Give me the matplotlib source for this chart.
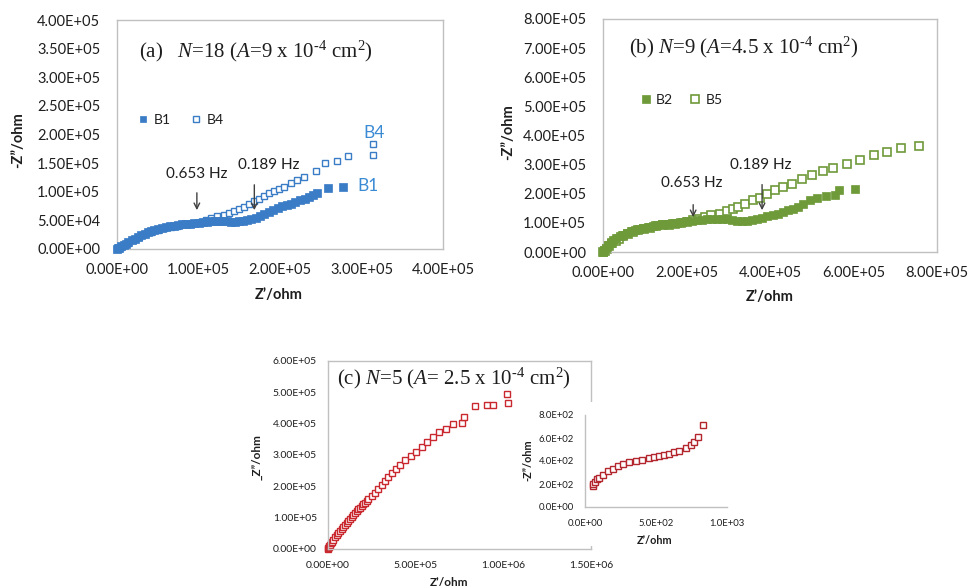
import numpy as np
import matplotlib
matplotlib.use('Agg')
import matplotlib.pyplot as plt
from matplotlib.ticker import FuncFormatter

plt.rcParams['font.family'] = ['Lato', 'DejaVu Sans']
plt.rcParams['mathtext.fontset'] = 'custom'
plt.rcParams['mathtext.rm'] = 'Liberation Serif'
plt.rcParams['mathtext.it'] = 'Liberation Serif:italic'
plt.rcParams['mathtext.bf'] = 'Liberation Serif:bold'

# ---------------- data ----------------
# Panel (a): units of 1e5 ohm
a_b1_x = [0.00, 0.01, 0.03, 0.05, 0.08, 0.11, 0.14, 0.18, 0.22, 0.26, 0.30, 0.34, 0.38, 0.42, 0.46,
          0.50, 0.55, 0.60, 0.65, 0.70, 0.75, 0.80, 0.85, 0.90, 0.95, 1.00, 1.05, 1.10, 1.15, 1.20,
          1.25, 1.30, 1.35, 1.40, 1.45, 1.50, 1.55, 1.60, 1.65, 1.70, 1.75, 1.80, 1.86, 1.92, 1.97,
          2.03, 2.09, 2.14, 2.19, 2.25, 2.31, 2.36, 2.41, 2.46, 2.59, 2.77]
a_b1_y = [0.00, 0.01, 0.025, 0.045, 0.07, 0.095, 0.12, 0.15, 0.18, 0.21, 0.24, 0.265, 0.29, 0.31, 0.33,
          0.35, 0.37, 0.385, 0.40, 0.41, 0.42, 0.43, 0.44, 0.445, 0.455, 0.46, 0.47, 0.48, 0.49, 0.495,
          0.495, 0.49, 0.485, 0.48, 0.48, 0.485, 0.495, 0.51, 0.53, 0.55, 0.58, 0.61, 0.645, 0.68, 0.71,
          0.745, 0.77, 0.79, 0.82, 0.85, 0.88, 0.91, 0.94, 0.97, 1.06, 1.09]
a_b4_x = [0.00, 0.02, 0.05, 0.09, 0.14, 0.20, 0.27, 0.34, 0.42, 0.50, 0.58, 0.66, 0.74, 0.82, 0.90,
          0.97, 1.03, 1.09, 1.15, 1.23, 1.31, 1.37, 1.43, 1.50, 1.56, 1.62, 1.68, 1.74, 1.80, 1.86,
          1.93, 1.99, 2.05, 2.13, 2.21, 2.30, 2.44, 2.55, 2.70, 2.83, 3.14, 3.14]
a_b4_y = [0.00, 0.02, 0.04, 0.075, 0.11, 0.155, 0.205, 0.255, 0.295, 0.335, 0.365, 0.39, 0.41, 0.43, 0.445,
          0.46, 0.48, 0.505, 0.54, 0.57, 0.60, 0.63, 0.66, 0.70, 0.74, 0.78, 0.83, 0.87, 0.93, 0.98,
          1.01, 1.05, 1.09, 1.15, 1.20, 1.26, 1.37, 1.51, 1.53, 1.63, 1.65, 1.83]

# Panel (b): units of 1e3 ohm
b_b2_x = [0, 3, 7, 12, 18, 25, 32, 40, 48, 57, 66, 76, 86, 97, 108, 119, 130, 142, 154, 166,
          178, 190, 202, 214, 226, 238, 250, 262, 274, 286, 298, 310, 322, 334, 346, 358, 370, 382,
          394, 406, 418, 430, 442, 454, 466, 480, 496, 512, 534, 556, 566, 604]
b_b2_y = [0, 7, 15, 24, 32, 40, 47, 54, 60, 66, 71, 76, 80, 84, 87, 90, 93, 95, 97, 99,
          101, 103, 105, 107, 109, 111, 113, 114, 115, 114, 112, 110, 108, 107, 108, 110, 113, 117,
          122, 127, 132, 138, 143, 149, 155, 164, 178, 186, 192, 195, 212, 216]
b_b5_x = [0, 4, 9, 15, 22, 30, 39, 49, 60, 72, 85, 99, 113, 128, 143, 158, 173, 188, 202, 216,
          230, 244, 258, 280, 296, 312, 324, 340, 360, 376, 392, 412, 432, 452, 476, 500, 528, 552,
          584, 616, 648, 680, 714, 756]
b_b5_y = [0, 5, 12, 21, 30, 38, 46, 54, 61, 68, 74, 79, 84, 88, 91, 94, 97, 100, 104, 109,
          115, 121, 127, 132, 141, 149, 155, 164, 178, 187, 199, 212, 224, 235, 249, 264, 278, 289,
          302, 316, 333, 344, 356, 364]

# Panel (c): units of 1e5 ohm
c_x = [0.00, 0.01, 0.03, 0.06, 0.10, 0.15, 0.21, 0.30, 0.40, 0.50, 0.59, 0.68, 0.78, 0.87, 0.97,
       1.06, 1.16, 1.25, 1.35, 1.44, 1.54, 1.63, 1.73, 1.82, 1.92, 2.01, 2.11, 2.20, 2.30, 2.49,
       2.68, 2.87, 3.06, 3.25, 3.44, 3.63, 3.88, 4.11, 4.41, 4.71, 5.02, 5.34, 5.66, 6.01, 6.35,
       6.73, 7.15, 7.62, 7.76, 8.40, 9.05, 9.39, 10.19, 10.25]
c_y = [0.00, 0.03, 0.06, 0.09, 0.13, 0.18, 0.23, 0.30, 0.37, 0.44, 0.50, 0.56, 0.63, 0.70, 0.77,
       0.83, 0.90, 0.96, 1.03, 1.10, 1.16, 1.22, 1.27, 1.32, 1.37, 1.43, 1.48, 1.53, 1.59, 1.69,
       1.80, 1.93, 2.04, 2.17, 2.29, 2.41, 2.54, 2.68, 2.84, 2.97, 3.11, 3.27, 3.43, 3.56, 3.72,
       3.84, 3.98, 4.03, 4.20, 4.56, 4.60, 4.61, 4.95, 4.67]

# Inset of (c): ohm
ci_x = [53, 58, 72, 86, 100, 128, 163, 198, 233, 267, 309, 356, 402, 449, 488, 523, 558, 593,
        628, 663, 709, 744, 767, 798, 833]
ci_y = [180, 198, 218, 241, 256, 282, 314, 334, 355, 372, 387, 404, 413, 422, 436, 442, 451, 465,
        474, 485, 509, 538, 567, 610, 712]

# ticks
a_ticks = [0, 1e5, 2e5, 3e5, 4e5]
a_yticks = [0, 5e4, 1e5, 1.5e5, 2e5, 2.5e5, 3e5, 3.5e5, 4e5]
b_ticks = [0, 2e5, 4e5, 6e5, 8e5]
b_yticks = [0, 1e5, 2e5, 3e5, 4e5, 5e5, 6e5, 7e5, 8e5]
c_xticks = [0, 5e5, 1e6, 1.5e6]
c_yticks = [0, 1e5, 2e5, 3e5, 4e5, 5e5, 6e5]
ci_xticks = [0, 500, 1000]
ci_yticks = [0, 200, 400, 600, 800]

# frequency annotations: (label, x, arrow top y, arrow tip y, text x, text y)
a_freq = [('0.653 Hz', 0.98e5, 1.03e5, 0.63e5, 0.98e5, 1.31e5),
          ('0.189 Hz', 1.685e5, 1.17e5, 0.63e5, 1.86e5, 1.47e5)]
b_freq = [('0.653 Hz', 216e3, 1.72e5, 1.10e5, 213e3, 2.37e5),
          ('0.189 Hz', 381e3, 2.41e5, 1.34e5, 379e3, 2.99e5)]

BLUE = '#3a7cc6'
BLUE_T = '#3a8ad4'
GREEN = '#6e9a3a'
RED = '#c8282e'
RED_IN = '#b3262d'
TXT = '#1e1e1e'
SPINE = '#c0c0c0'

W, H = 971, 587
fig = plt.figure(figsize=(W / 100, H / 100), dpi=100)


def rect(l, t, r, b):
    return [l / W, (H - b) / H, (r - l) / W, (b - t) / H]


def style(ax, xt, yt, fmt, fs, padx, pady, lim):
    ax.set_xlim(lim[0], lim[1])
    ax.set_ylim(lim[2], lim[3])
    ax.set_xticks(xt)
    ax.set_yticks(yt)
    f = FuncFormatter(lambda v, p: fmt.format(v))
    ax.xaxis.set_major_formatter(f)
    ax.yaxis.set_major_formatter(f)
    ax.tick_params(length=0, labelsize=fs, labelcolor=TXT)
    ax.tick_params(axis='x', pad=padx)
    ax.tick_params(axis='y', pad=pady)
    for s in ax.spines.values():
        s.set_color(SPINE)
        s.set_linewidth(1.0)


def labels(ax, box, xl, yl, xpos, ypos, fs):
    l, t, r, b = box
    ax.set_xlabel(xl, fontsize=fs, fontweight='bold', color=TXT)
    ax.set_ylabel(yl, fontsize=fs, fontweight='bold', color=TXT)
    ax.xaxis.set_label_coords((xpos[0] - l) / (r - l), (b - xpos[1]) / (b - t))
    ax.yaxis.set_label_coords((ypos[0] - l) / (r - l), (b - ypos[1]) / (b - t))
    ax.xaxis.label.set_va('center')
    ax.yaxis.label.set_va('center')


def title(ax, x, y, s):
    ax.text(x, y, s, transform=ax.transAxes, family='Liberation Serif', fontsize=15,
            va='center', ha='left', color=TXT)


# ---------------- panel (a) ----------------
box_a = (117, 20, 443, 249)
ax = fig.add_axes(rect(*box_a))
ax.plot(np.array(a_b4_x) * 1e5, np.array(a_b4_y) * 1e5, 's', ms=5.0, mfc='white', mec=BLUE,
        mew=1.0, ls='none', clip_on=False, label='B4', zorder=2)
ax.plot(np.array(a_b1_x) * 1e5, np.array(a_b1_y) * 1e5, 's', ms=6.0, mfc=BLUE, mec=BLUE,
        mew=0.5, ls='none', clip_on=False, label='B1', zorder=3)
style(ax, a_ticks, a_yticks, '{:.2E}', 10.5, 10, 12, (0, 4e5, 0, 4e5))
labels(ax, box_a, 'Z’/ohm', '-Z”/ohm', (279, 295), (18, 140), 10.5)
h, lb = ax.get_legend_handles_labels()
ax.legend([h[1], h[0]], [lb[1], lb[0]], loc='center left', bbox_to_anchor=(0.064, 0.563),
          ncol=2, frameon=False, fontsize=10, handlelength=0.8, handletextpad=0.35,
          columnspacing=1.4, borderpad=0, borderaxespad=0, labelcolor=TXT, markerscale=0.8)
title(ax, 0.067, 0.865, r'(a)   $N$=18 ($A$=9 x 10$^{\text{-}4}$ cm$^{2}$)')
for lab_, x, y0, y1, tx, ty in a_freq:
    ax.annotate('', xy=(x, y1), xytext=(x, y0),
                arrowprops=dict(arrowstyle='->', color='#404040', lw=1.0))
    ax.text(tx, ty, lab_, fontsize=11, ha='center', va='center', color=TXT)
ax.text(3.15e5, 2.02e5, 'B4', fontsize=12.5, color=BLUE_T, ha='center', va='center')
ax.text(2.95e5, 1.10e5, 'B1', fontsize=12.5, color=BLUE_T, ha='left', va='center')

# ---------------- panel (b) ----------------
box_b = (603, 19, 937, 252)
ax = fig.add_axes(rect(*box_b))
ax.plot(np.array(b_b5_x) * 1e3, np.array(b_b5_y) * 1e3, 's', ms=6.3, mfc='white', mec=GREEN,
        mew=1.2, ls='none', clip_on=False, label='B5', zorder=2)
ax.plot(np.array(b_b2_x) * 1e3, np.array(b_b2_y) * 1e3, 's', ms=6.2, mfc=GREEN, mec=GREEN,
        mew=0.5, ls='none', clip_on=False, label='B2', zorder=3)
style(ax, b_ticks, b_yticks, '{:.2E}', 10.5, 10, 12, (0, 8e5, 0, 8e5))
labels(ax, box_b, 'Z’/ohm', '-Z”/ohm', (770, 297), (508, 132), 10.5)
h, lb = ax.get_legend_handles_labels()
ax.legend([h[1], h[0]], [lb[1], lb[0]], loc='center left', bbox_to_anchor=(0.111, 0.652),
          ncol=2, frameon=False, fontsize=10, handlelength=0.8, handletextpad=0.35,
          columnspacing=1.2, borderpad=0, borderaxespad=0, labelcolor=TXT, markerscale=0.95)
title(ax, 0.078, 0.88, r'(b) $N$=9 ($A$=4.5 x 10$^{\text{-}4}$ cm$^{2}$)')
for lab_, x, y0, y1, tx, ty in b_freq:
    ax.annotate('', xy=(x, y1), xytext=(x, y0),
                arrowprops=dict(arrowstyle='->', color='#404040', lw=1.0))
    ax.text(tx, ty, lab_, fontsize=11, ha='center', va='center', color=TXT)

# ---------------- panel (c) ----------------
box_c = (328, 361, 591, 549)
ax = fig.add_axes(rect(*box_c))
ax.plot(np.array(c_x) * 1e5, np.array(c_y) * 1e5, 's', ms=4.4, mfc='white', mec=RED,
        mew=1.0, ls='none', clip_on=False)
style(ax, c_xticks, c_yticks, '{:.2E}', 7.5, 9, 8, (0, 1.5e6, 0, 6e5))
labels(ax, box_c, 'Z’/ohm', '_Z”/ohm', (449, 582), (257, 457), 8.5)
title(ax, 0.034, 0.91, r'(c) $N$=5 ($A$= 2.5 x 10$^{\text{-}4}$ cm$^{2}$)')

# white chart area of the inset
bg = fig.add_axes(rect(520, 402, 756, 546))
bg.set_facecolor('white')
bg.set_xticks([])
bg.set_yticks([])
for s in bg.spines.values():
    s.set_visible(False)

box_i = (585, 415, 727, 507)
ai = fig.add_axes(rect(*box_i))
ai.plot(ci_x, ci_y, 's', ms=4.3, mfc='white', mec=RED_IN, mew=1.0, ls='none', clip_on=False)
style(ai, ci_xticks, ci_yticks, '{:.1E}', 6.8, 9, 8, (0, 1000, 0, 800))
ai.spines['top'].set_visible(False)
ai.spines['right'].set_visible(False)
labels(ai, box_i, 'Z’/ohm', '-Z”/ohm', (655, 540), (528, 460), 7.8)

fig.savefig('out.png', dpi=100, facecolor='white')
